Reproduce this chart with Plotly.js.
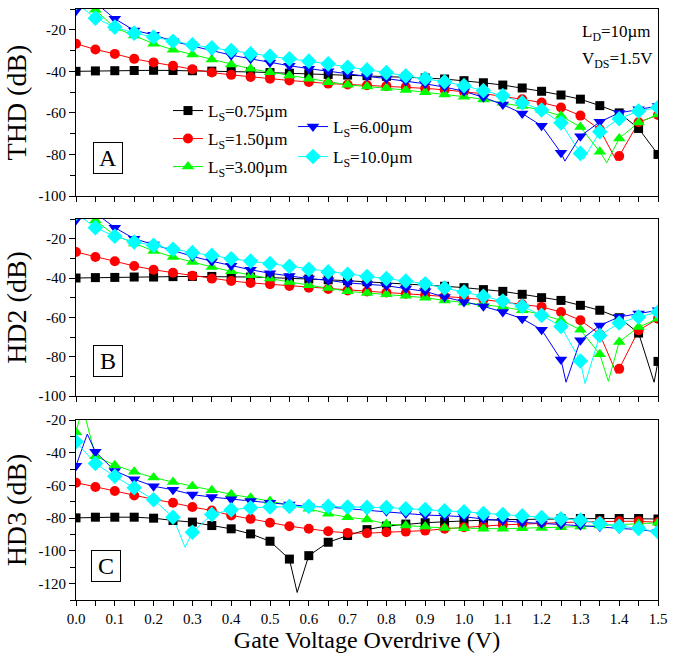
<!DOCTYPE html>
<html><head><meta charset="utf-8">
<script src="https://cdn.plot.ly/plotly-3.0.1.min.js"></script>
<style>html,body{margin:0;padding:0;background:#fff}</style>
</head><body><div id="chart" style="width:692px;height:659px"></div>
<script>
// ---- data ----
const vgs = [0,0.05,0.1,0.15,0.2,0.25,0.3,0.35,0.4,0.45,0.5,0.55,0.6,0.65,0.7,0.75,0.8,0.85,0.9,0.95,1.0,1.05,1.1,1.15,1.2,1.25,1.3,1.35,1.4,1.45,1.5];

// Panel A: THD (dB)
const thd_L075 = [-40,-39.8,-39.7,-39.6,-39.5,-39.6,-39.7,-39.9,-40.1,-40.3,-40.6,-40.9,-41.2,-41.5,-41.8,-42.1,-42.4,-42.8,-43.2,-43.7,-44.5,-45.5,-46.6,-48,-49.6,-51.4,-53.4,-56.5,-60,-67.5,-80];
const thd_L150 = [-26.7,-29.5,-31.6,-34,-35.7,-37.3,-39,-40.6,-41.7,-42.7,-43.6,-44.4,-45.1,-45.9,-46.3,-46.7,-47.1,-47.6,-48.2,-48.9,-49.8,-50.8,-52,-53.4,-55,-57.4,-61.3,-68,-80.8,-64.5,-61];
const thd_L300 = [-4,-10.4,-19,-22.7,-26.7,-29.6,-31.9,-34.3,-36.7,-38.8,-40.4,-42,-43.6,-45.2,-46.5,-47.3,-48,-49,-50.1,-51.1,-52.2,-53.5,-55.1,-56.7,-58.6,-61.4,-66.8,-78.7,-72.3,-64.6,-60.8];
const thd_L600 = [-10.8,-7,-14.7,-20.3,-22.4,-25.5,-27.8,-30,-32.2,-34,-35.8,-37.3,-38.7,-40,-41.2,-42.4,-43.5,-44.6,-46,-47.6,-49.6,-52.5,-56,-60.3,-66.2,-79.2,-71.2,-64.3,-60,-58.3,-56.7];
const thd_L100 = [-7,-14.4,-18.7,-21.6,-23.5,-25.5,-27.2,-28.7,-30,-31.6,-32.7,-34,-35.1,-36.4,-38,-39.3,-40.6,-42.2,-43.5,-45,-46.9,-49.3,-51.7,-55.1,-58.6,-64.8,-79.5,-69.1,-62.8,-59.1,-57.4];
// extra points (minima between markers)
const thdDipX = {L075:[], L150:[1.393], L300:[1.368], L600:[1.26], L100:[1.3075]};
const thdDipY = {L075:[], L150:[-83], L300:[-84], L600:[-83.2], L100:[-82.4]};

// Panel B: HD2 (dB)
const hd2_L075 = [-40,-39.8,-39.7,-39.5,-39.5,-39.3,-39.2,-39.2,-39.3,-39.5,-39.8,-40.1,-40.5,-40.9,-41.4,-41.9,-42.4,-42.9,-43.4,-44.2,-44.9,-45.9,-46.8,-48.3,-50,-51.4,-53.9,-56.4,-60.2,-68,-82.4];
const hd2_L150 = [-26.8,-29.3,-31.5,-33.9,-35.8,-37.3,-38.8,-40.3,-41.5,-42.5,-43.2,-44.1,-44.9,-45.6,-46.3,-46.9,-47.4,-48,-48.6,-49.3,-50.1,-51,-52.1,-53.4,-54.7,-57.3,-61.5,-68.6,-86.2,-66.6,-60.7];
const hd2_L300 = [-4,-10.7,-18.3,-22.5,-26.3,-29.3,-31.9,-34.4,-36.6,-38.6,-40.3,-42,-43.7,-45.1,-46.8,-47.6,-48.3,-49,-50,-51.4,-52.5,-53.4,-54.7,-56.4,-58.6,-61.5,-66.3,-78.8,-72.5,-64.9,-60.7];
const hd2_L600 = [-10.5,-7,-14.4,-20,-23,-26,-29,-31.5,-33.8,-35.8,-37.6,-39,-40.3,-41.2,-42.5,-43.2,-43.9,-45.4,-46.8,-49.7,-52.2,-54.4,-57.3,-60.7,-66.3,-81.5,-71.7,-64.1,-59.8,-58.1,-56.4];
const hd2_L100 = [-7,-14.4,-18.8,-21.7,-23.4,-25.4,-27.1,-28.5,-30.2,-31.4,-32.7,-34.1,-35.6,-36.9,-38.1,-39.2,-40.3,-41.5,-42.9,-45.1,-47.1,-49.3,-51.7,-54.4,-59,-64.6,-82.2,-69.2,-62.9,-59.8,-57.3];
const hd2DipX = {L075:[1.49], L150:[1.393], L300:[1.372], L600:[1.263], L100:[1.312]};
const hd2DipY = {L075:[-93], L150:[-88.5], L300:[-92.5], L600:[-93], L100:[-93.7]};

// Panel C: HD3 (dB)
const hd3_L075 = [-79.8,-79.4,-79.4,-79.4,-80,-81.4,-82.4,-84.5,-86.5,-89.6,-94.1,-105,-102.9,-94.7,-90.6,-87,-84.8,-83.6,-82.8,-82.2,-81.6,-81.2,-80.9,-80.7,-80.5,-80.3,-80.2,-80.2,-80.2,-80.2,-80.5];
const hd3_L150 = [-58.3,-60.9,-63.4,-66.1,-68.5,-70.6,-73.2,-75.3,-78.3,-80.4,-82.8,-84.9,-86.5,-88,-89,-89.2,-88.6,-88.2,-87.6,-86.5,-85.5,-84.9,-84.1,-83.5,-83.1,-82.7,-82.3,-81.9,-81.9,-81.9,-82.5];
const hd3_L300 = [-27.5,-42.1,-47.6,-51.7,-55.2,-57.9,-60.5,-63,-65.4,-67.5,-69.5,-72.2,-74.2,-77.3,-79.4,-80.8,-83.5,-84.5,-85.1,-86,-86.1,-86.5,-86.5,-86.1,-86,-85.5,-85.1,-84.5,-83.9,-83.5,-82.8];
const hd3_L600 = [-48,-39.4,-51.1,-56.2,-60.5,-62.6,-65.6,-67.1,-68.5,-69.5,-70.6,-71.6,-72.8,-73.2,-74.2,-74.8,-75.8,-77.1,-78.1,-78.5,-79.1,-80.5,-81.6,-82.6,-83.2,-83.8,-84.3,-85.3,-86.3,-86.9,-88.4];
const hd3_L100 = [-33.3,-46.6,-54.4,-61.4,-68.7,-79.4,-88.6,-77.7,-74.9,-73.6,-73.2,-72.8,-72.8,-72.8,-73.2,-73.4,-73.5,-74.3,-74.7,-75.5,-76.1,-77.1,-77.8,-78.6,-79.6,-80.4,-81.2,-83.3,-84.9,-86.3,-88.4];
const hd3DipX = {L075:[0.57], L150:[], L300:[0.017], L600:[0.029], L100:[0.281]};
const hd3DipY = {L075:[-125.4], L150:[], L300:[-12], L600:[-28.6], L100:[-97.8]};

const seriesKeys = ['L075','L150','L300','L600','L100'];
const seriesNames = ['L<sub>S</sub>=0.75µm','L<sub>S</sub>=1.50µm','L<sub>S</sub>=3.00µm','L<sub>S</sub>=6.00µm','L<sub>S</sub>=10.0µm'];

const yTickValsAB = [-20,-40,-60,-80,-100];
const yTickTextAB = ['-20','-40','-60','-80','-100'];
const yTickValsC = [-20,-40,-60,-80,-100,-120];
const yTickTextC = ['-20','-40','-60','-80','-100','-120'];
const yTitles = ['THD (dB)','HD2 (dB)','HD3 (dB)'];
const panelLetters = ['A','B','C'];
const xTitle = 'Gate Voltage Overdrive (V)';
const noteLD = 'L<sub>D</sub>=10µm';
const noteVDS = 'V<sub>DS</sub>=1.5V';

// ---- styles ----
const FONT = '"Liberation Serif", "Times New Roman", serif';
const styles = {
  L075:{color:'#000000', symbol:'square', size:9},
  L150:{color:'#ff0000', symbol:'circle', size:10},
  L300:{color:'#00ff00', symbol:'triangle-up', size:11},
  L600:{color:'#0000ff', symbol:'triangle-down', size:11},
  L100:{color:'#00ffff', symbol:'diamond', size:12}
};

const panels = [
  {data:{L075:thd_L075,L150:thd_L150,L300:thd_L300,L600:thd_L600,L100:thd_L100}, dx:thdDipX, dy:thdDipY, xa:'x', ya:'y'},
  {data:{L075:hd2_L075,L150:hd2_L150,L300:hd2_L300,L600:hd2_L600,L100:hd2_L100}, dx:hd2DipX, dy:hd2DipY, xa:'x2', ya:'y2'},
  {data:{L075:hd3_L075,L150:hd3_L150,L300:hd3_L300,L600:hd3_L600,L100:hd3_L100}, dx:hd3DipX, dy:hd3DipY, xa:'x3', ya:'y3'}
];

const traces = [];
panels.forEach(p => {
  seriesKeys.forEach(k => {
    const st = styles[k];
    const pts = vgs.map((x,i)=>[x,p.data[k][i]]);
    p.dx[k].forEach((x,i)=>pts.push([x,p.dy[k][i]]));
    pts.sort((a,b)=>a[0]-b[0]);
    traces.push({x:pts.map(q=>q[0]), y:pts.map(q=>q[1]), xaxis:p.xa, yaxis:p.ya,
      mode:'lines', line:{color:st.color, width:1}, showlegend:false, hoverinfo:'skip'});
  });
  seriesKeys.forEach(k => {
    const st = styles[k];
    traces.push({x:vgs, y:p.data[k], xaxis:p.xa, yaxis:p.ya, mode:'markers',
      marker:{symbol:st.symbol, size:st.size, color:st.color, line:{width:0}},
      showlegend:false, hoverinfo:'skip'});
  });
});
// legend entries
seriesKeys.forEach((k,i) => {
  const st = styles[k];
  traces.push({x:[null], y:[null], xaxis:'x', yaxis:'y', mode:'lines+markers', name:seriesNames[i],
    line:{color:st.color, width:1}, marker:{symbol:st.symbol, size:st.size, color:st.color, line:{width:0}},
    legend: i===0 ? 'legend' : 'legend'+(i+1), showlegend:true});
});

// ---- layout ----
const L = 76, R = 34, T = 9, B = 59, W = 692, H = 659;
const PH = H - T - B, PW = W - L - R;
const py = v => (H - B - v) / PH;   // pixel y -> paper
const px = v => (v - L) / PW;       // pixel x -> paper
const doms = [[py(196),1],[py(396),py(219)],[0,py(420)]];
const yRanges = [[-100,-10],[-100,-10],[-130,-20]];

const tickFont = {family:FONT, size:15, color:'#000'};
const layout = {
  width:W, height:H, margin:{l:L, r:R, t:T, b:B},
  paper_bgcolor:'#fff', plot_bgcolor:'#fff',
  font:{family:FONT, color:'#000'},
  annotations:[], showlegend:true
};
[0,1,2].forEach(i => {
  const sx = i===0?'':String(i+1);
  const ax = {
    domain:[0,1], range:[0,1.5], anchor:'y'+sx, showline:true, linecolor:'#000', linewidth:1, mirror:true,
    ticks:'outside', ticklen:5, tickwidth:1, tickcolor:'#000', tick0:0, dtick:0.1,
    minor:{tick0:0, dtick:0.05, ticks:'outside', ticklen:5, tickwidth:1, tickcolor:'#000', showgrid:false},
    showgrid:false, zeroline:false, showticklabels:i===2, tickformat:'.1f', tickfont:tickFont, fixedrange:true
  };
  if (i===2) ax.title = {text:xTitle, font:{family:FONT, size:24, color:'#000'}, standoff:5};
  layout['xaxis'+sx] = ax;
  const tv = i===2 ? yTickValsC : yTickValsAB;
  const tt = i===2 ? yTickTextC : yTickTextAB;
  layout['yaxis'+sx] = {
    domain:doms[i], range:yRanges[i], anchor:'x'+sx, showline:true, linecolor:'#000', linewidth:1, mirror:true,
    ticks:'outside', ticklen:6, tickwidth:1, tickcolor:'#000', tickmode:'array', tickvals:tv, ticktext:tt,
    minor:{tickmode:'linear', tick0:0, dtick:10, ticks:'outside', ticklen:5, tickwidth:1, tickcolor:'#000', showgrid:false},
    showgrid:false, zeroline:false, tickfont:tickFont, fixedrange:true,
    title:{text:yTitles[i], font:{family:FONT, size:28, color:'#000'}, standoff:3}
  };
  // mirrored inside ticks (top and right)
  const ox = String(i+4);
  layout['xaxis'+ox] = {overlaying:'x'+sx, anchor:'y'+sx, side:'top', range:[0,1.5], showline:false,
    ticks:'inside', ticklen:5, tickcolor:'#000', tick0:0, dtick:0.1,
    minor:{tick0:0, dtick:0.05, ticks:'inside', ticklen:5, tickcolor:'#000', showgrid:false},
    showticklabels:false, showgrid:false, zeroline:false, fixedrange:true};
  layout['yaxis'+ox] = {overlaying:'y'+sx, anchor:'x'+sx, side:'right', range:yRanges[i], showline:false,
    ticks:'inside', ticklen:6, tickcolor:'#000', tickmode:'linear', tick0:0, dtick:10,
    showticklabels:false, showgrid:false, zeroline:false, fixedrange:true};
  // panel letter
  const cy = [158, 360.5, 566][i];
  const cx = [107.7, 107.7, 105.5][i];
  layout.annotations.push({xref:'paper', yref:'paper', x:px(cx), y:py(cy), xanchor:'center', yanchor:'middle',
    text:panelLetters[i], showarrow:false, font:{family:FONT, size:24, color:'#000'},
    bordercolor:'#000', borderwidth:1, borderpad:0, width:28, height:30});
});
layout.annotations.push({xref:'paper', yref:'paper', x:px(580), y:py(33), xanchor:'left', yanchor:'middle',
  text:noteLD, showarrow:false, font:{family:FONT, size:17, color:'#000'}});
layout.annotations.push({xref:'paper', yref:'paper', x:px(580), y:py(60), xanchor:'left', yanchor:'middle',
  text:noteVDS, showarrow:false, font:{family:FONT, size:17, color:'#000'}});

// legends (one per entry, placed as in the figure)
const legPos = [[168,111],[168,139],[168,167],[293,127],[293,157]];
legPos.forEach((p,i) => {
  layout[i===0?'legend':'legend'+(i+1)] = {x:px(p[0]), y:py(p[1]), xanchor:'left', yanchor:'middle',
    bgcolor:'rgba(0,0,0,0)', borderwidth:0, font:{family:FONT, size:17, color:'#000'}, itemwidth:30};
});

Plotly.newPlot('chart', traces, layout, {displayModeBar:false, staticPlot:true});
</script></body></html>
